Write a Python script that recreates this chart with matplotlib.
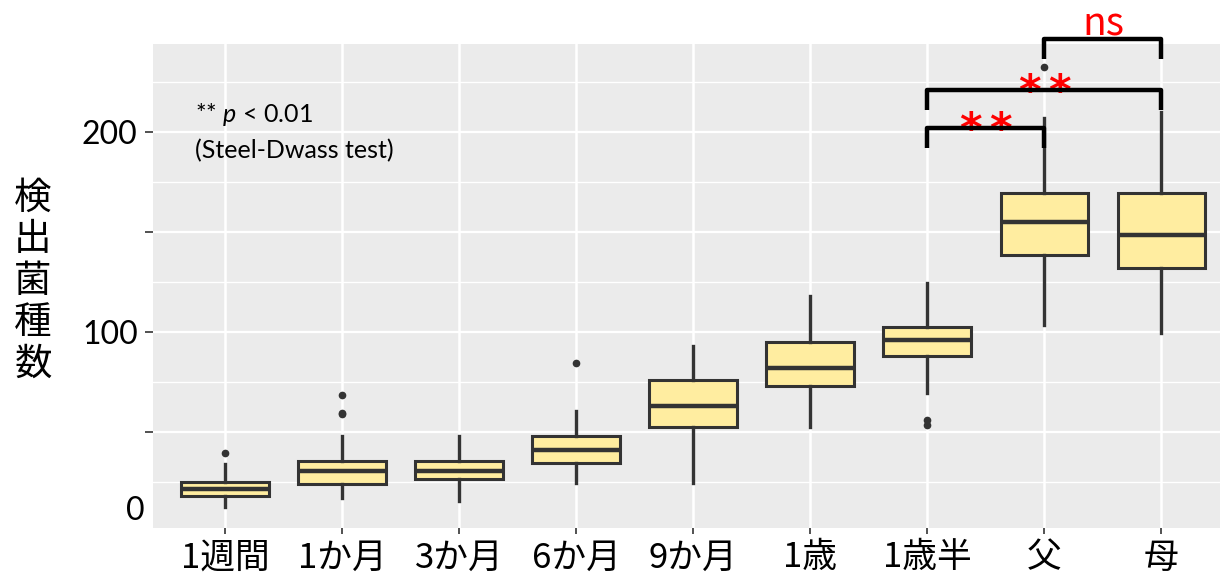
import numpy as np
import matplotlib
matplotlib.use("Agg")
import matplotlib.pyplot as plt
import matplotlib.transforms as mtransforms

plt.rcParams['font.family'] = ['Noto Sans CJK JP', 'DejaVu Sans']
plt.rcParams['mathtext.fontset'] = 'custom'
plt.rcParams['mathtext.rm'] = 'Lato'
plt.rcParams['mathtext.it'] = 'Lato:italic'

# data
groups = ['1週間', '1か月', '3か月', '6か月', '9か月', '1歳', '1歳半', '父', '母']
med = [21.5, 30.5, 30.5, 41.0, 63.0, 82.0, 96.0, 155.0, 148.5]
q1 = [18.0, 24.0, 26.5, 34.5, 52.5, 73.0, 88.0, 138.5, 132.0]
q3 = [25.0, 35.5, 35.5, 48.0, 76.0, 95.0, 102.5, 169.5, 169.5]
wlo = [12.5, 17.0, 15.5, 24.5, 24.5, 52.5, 69.5, 103.5, 99.5]
whi = [34.0, 48.0, 48.0, 60.5, 93.0, 118.0, 124.5, 207.0, 210.0]
fliers = [[39.5], [59.0, 59.6, 68.5], [], [84.5], [], [], [56.0, 53.5], [232.5], []]

# comparisons (group a, group b, bracket height, label)
comparisons = [(6, 7, 202, '**'), (6, 8, 221, '**'), (7, 8, 246.5, 'ns')]

stats = []
for i in range(len(groups)):
    stats.append(dict(med=med[i], q1=q1[i], q3=q3[i], whislo=wlo[i],
                      whishi=whi[i], fliers=fliers[i]))

fig = plt.figure(figsize=(12.2, 5.8), dpi=100)
ax = fig.add_axes([0.1254, 0.0897, 0.8746, 0.8345])
ax.set_facecolor('#EBEBEB')

pos = np.arange(1, len(groups) + 1)
ax.bxp(stats, positions=pos, widths=0.75, patch_artist=True, showcaps=False,
       boxprops=dict(facecolor='#FFEDA0', edgecolor='#333333', linewidth=2.2),
       medianprops=dict(color='#333333', linewidth=3.2),
       whiskerprops=dict(color='#333333', linewidth=2.4),
       flierprops=dict(marker='o', markersize=4.5, markerfacecolor='#333333',
                       markeredgecolor='#333333'), zorder=3)

ax.set_xlim(0.385, 9.5)
ax.set_ylim(2, 244)

# grid
for y in np.arange(25, 250, 25):
    ax.axhline(y, color='white', lw=1.6 if y % 50 == 0 else 1.0, zorder=0)
for x in pos:
    ax.axvline(x, color='white', lw=1.8, zorder=0)
for s in ax.spines.values():
    s.set_visible(False)

ax.set_xticks(pos)
ax.set_xticklabels(groups, fontsize=25)
ax.set_yticks([50, 100, 150, 200])
ax.set_yticklabels(['', '100', '', '200'], fontsize=23, family='Lato')
ax.tick_params(axis='y', length=6, width=1.2, color='#333333', pad=5)
ax.tick_params(axis='x', length=4, width=1.2, color='#333333', pad=5)
trans = mtransforms.blended_transform_factory(ax.transAxes, ax.transData)
ax.text(-0.0075, 10.5, '0', transform=trans, ha='right', va='center',
        fontsize=23, family='Lato')

# y label stacked vertically
fig.text(0.027, 0.515, '検\n出\n菌\n種\n数', ha='center', va='center',
         fontsize=27, linespacing=1.08)

# note
ax.text(0.039, 0.855, r'** $\it{p}$ < 0.01', transform=ax.transAxes,
        fontsize=18, family='Lato', va='center')
ax.text(0.039, 0.78, '(Steel-Dwass test)', transform=ax.transAxes,
        fontsize=18, family='Lato', va='center')

# significance brackets
for a, b, h, lab in comparisons:
    xa, xb = pos[a], pos[b]
    mid = (xa + xb) / 2
    ax.plot([xa, xa, xb, xb], [h - 10, h, h, h - 10], color='black', lw=3.2,
            solid_joinstyle='round', solid_capstyle='butt', clip_on=False, zorder=5)
    if lab == 'ns':
        ax.text(mid, h + 1.5, lab, color='red', fontsize=28,
                ha='center', va='baseline', clip_on=False)
    else:
        for dx in (-15, 15):
            ax.annotate('*', xy=(mid, h - 7.5), xytext=(dx, 0),
                        textcoords='offset pixels', color='red', fontsize=31,
                        fontweight='bold', ha='center', va='baseline',
                        family='DejaVu Sans', annotation_clip=False)

fig.savefig('out.png', dpi=100)
